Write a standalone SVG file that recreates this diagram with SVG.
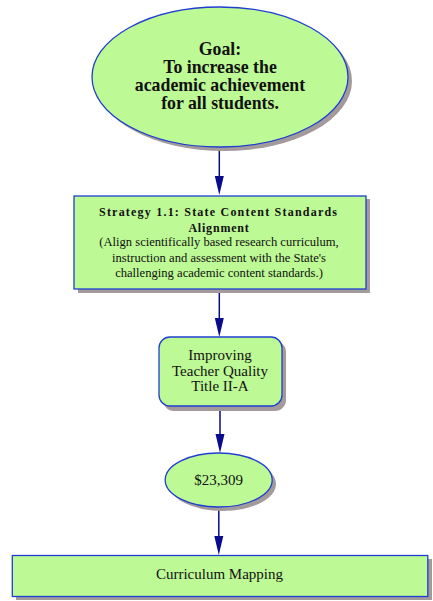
<svg xmlns="http://www.w3.org/2000/svg" width="433" height="601" viewBox="0 0 433 601">
<style>
.node{fill:#bdf995;stroke:#1f3fd0;stroke-width:1.3}
.shadow{fill:#a39b9b}
.edge{stroke:#0a0a8c;stroke-width:1.5;fill:none}
.head{fill:#0a0a8c}
.t{font-family:"Liberation Serif","Times New Roman",serif;fill:#111;text-anchor:middle}
.b{font-weight:bold}
</style>
<rect width="433" height="601" fill="#fff"/>
<g id="connectors">
<line class="edge" x1="219.3" y1="150" x2="219.3" y2="176"/>
<path class="head" d="M214.8,176 L223.8,176 L219.3,195 Z"/>
<line class="edge" x1="219.3" y1="290" x2="219.3" y2="318"/>
<path class="head" d="M214.8,318 L223.8,318 L219.3,337 Z"/>
<line class="edge" x1="220" y1="407" x2="220" y2="434"/>
<path class="head" d="M215.5,434 L224.5,434 L220,453 Z"/>
<line class="edge" x1="218.8" y1="508" x2="218.8" y2="536"/>
<path class="head" d="M214.3,536 L223.3,536 L218.8,555 Z"/>
</g>
<g id="goal">
<ellipse class="shadow" cx="224" cy="81" rx="128" ry="70"/>
<ellipse class="node" cx="220" cy="77" rx="128" ry="70"/>
<text class="t b" font-size="17.8" x="220" y="55">Goal:</text>
<text class="t b" font-size="17.8" x="220" y="73">To increase the</text>
<text class="t b" font-size="17.8" x="220" y="91">academic achievement</text>
<text class="t b" font-size="17.8" x="220" y="109">for all students.</text>
</g>
<g id="strategy">
<rect class="shadow" x="78" y="199" width="292" height="94"/>
<rect class="node" x="74" y="196" width="292" height="93"/>
<text class="t b" font-size="12" x="218" y="216" textLength="238" lengthAdjust="spacing">Strategy 1.1: State Content Standards</text>
<text class="t b" font-size="12" x="219" y="232" letter-spacing="0.8">Alignment</text>
<text class="t" font-size="12.6" x="219" y="246">(Align scientifically based research curriculum,</text>
<text class="t" font-size="12.6" x="219" y="262">instruction and assessment with the State's</text>
<text class="t" font-size="12.6" x="219" y="277">challenging academic content standards.)</text>
</g>
<g id="title2a">
<rect class="shadow" x="163" y="341" width="123" height="70" rx="11"/>
<rect class="node" x="159" y="337" width="123" height="69" rx="11"/>
<text class="t" font-size="15" x="220" y="360">Improving</text>
<text class="t" font-size="15" x="220" y="376">Teacher Quality</text>
<text class="t" font-size="15" x="220" y="391">Title II-A</text>
</g>
<g id="amount">
<ellipse class="shadow" cx="222.5" cy="484" rx="53.5" ry="27"/>
<ellipse class="node" cx="218.7" cy="480" rx="53.5" ry="27"/>
<text class="t" font-size="15" x="218.7" y="485">$23,309</text>
</g>
<g id="curriculum">
<rect class="shadow" x="16" y="559" width="416" height="41"/>
<rect class="node" x="12.3" y="555.5" width="415.5" height="41"/>
<text class="t" font-size="15" x="219.5" y="579">Curriculum Mapping</text>
</g>
</svg>
